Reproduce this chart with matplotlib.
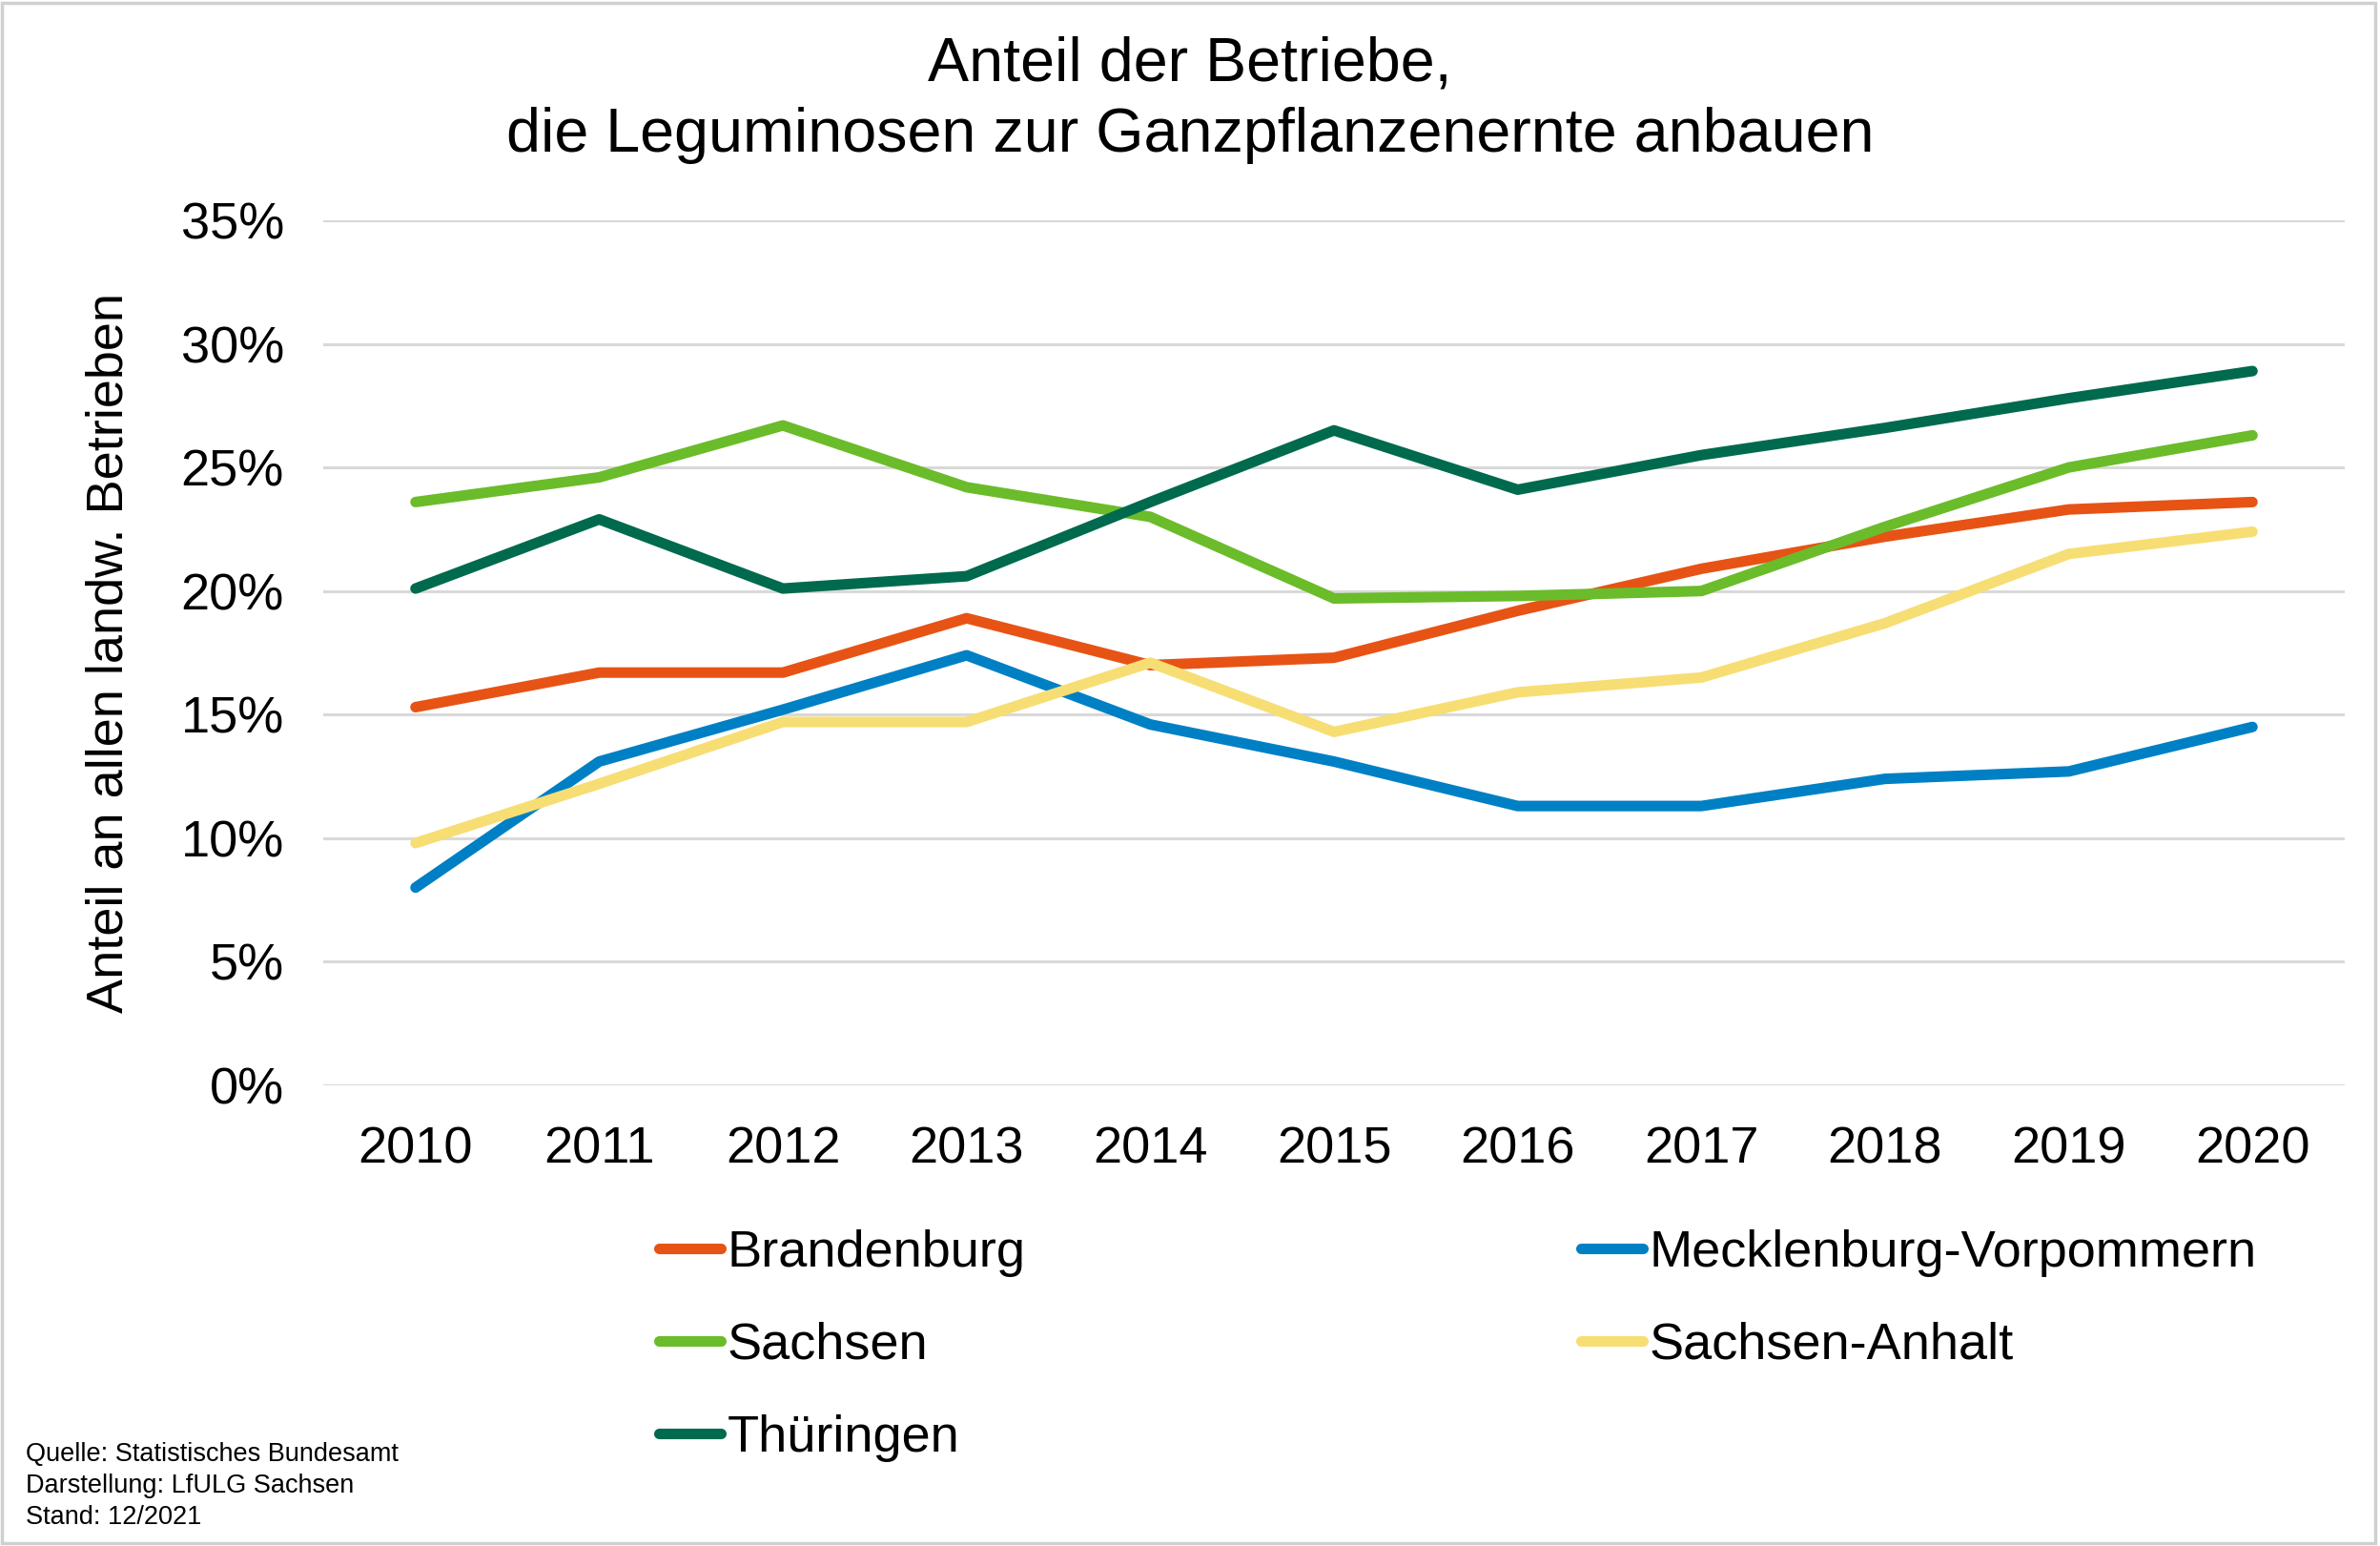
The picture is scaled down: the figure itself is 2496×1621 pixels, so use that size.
import matplotlib
matplotlib.use("Agg")
import matplotlib.pyplot as plt
from matplotlib.patches import Rectangle
from matplotlib.ticker import FuncFormatter

plt.rcParams['font.family'] = ['Liberation Sans', 'DejaVu Sans']

# Daten (Anteil in %)
years = [2010, 2011, 2012, 2013, 2014, 2015, 2016, 2017, 2018, 2019, 2020]
brandenburg = [15.3, 16.7, 16.7, 18.9, 17.0, 17.3, 19.2, 20.9, 22.2, 23.3, 23.6]
mv = [8.0, 13.1, 15.2, 17.4, 14.6, 13.1, 11.3, 11.3, 12.4, 12.7, 14.5]
sachsen = [23.6, 24.6, 26.7, 24.2, 23.0, 19.7, 19.8, 20.0, 22.6, 25.0, 26.3]
sachsen_anhalt = [9.8, 12.2, 14.7, 14.7, 17.1, 14.3, 15.9, 16.5, 18.7, 21.5, 22.4]
thueringen = [20.1, 22.9, 20.1, 20.6, 23.6, 26.5, 24.1, 25.5, 26.6, 27.8, 28.9]

series = [
    ("Brandenburg", brandenburg, "#E75315"),
    ("Mecklenburg-Vorpommern", mv, "#0080C4"),
    ("Sachsen", sachsen, "#6ABC2A"),
    ("Sachsen-Anhalt", sachsen_anhalt, "#F7DE74"),
    ("Thüringen", thueringen, "#006A4E"),
]

fig = plt.figure(figsize=(24.96, 16.21), dpi=100)
ax = fig.add_axes([0.136, 0.298, 0.849, 0.5595])

lines = {}
for name, vals, col in series:
    ln, = ax.plot(years, vals, color=col, lw=8, solid_capstyle='round',
                  solid_joinstyle='round', label=name)
    lines[name] = ln

ax.set_xlim(2009.5, 2020.5)
ax.set_ylim(0, 35)
ax.set_yticks(range(0, 36, 5))
ax.yaxis.set_major_formatter(FuncFormatter(lambda v, p: f"{int(v)}%"))
ax.set_xticks(years)
ax.tick_params(axis='both', length=0, labelsize=39)
ax.tick_params(axis='y', pad=30)
ax.tick_params(axis='x', pad=31)
ax.grid(axis='y', color='#d9d9d9', lw=2.2)
ax.set_axisbelow(True)
for s in ax.spines.values():
    s.set_visible(False)

ax.set_ylabel("Anteil an allen landw. Betrieben", fontsize=39, labelpad=36)

fig.text(0.5, 0.977, "Anteil der Betriebe,\ndie Leguminosen zur Ganzpflanzenernte anbauen",
         ha='center', va='top', fontsize=46.5, linespacing=1.32)

# Legende: Spaltenweise, damit die Zeilen wie im Original liegen
order = ["Brandenburg", "Sachsen", "Thüringen", "Mecklenburg-Vorpommern", "Sachsen-Anhalt"]
fig.legend([lines[n] for n in order], order, ncol=2, loc='upper left',
           bbox_to_anchor=(0.277, 0.205), frameon=False, fontsize=39,
           handlelength=1.2, handletextpad=0.12, columnspacing=10.75,
           labelspacing=0.87, borderaxespad=0, borderpad=0)

fig.text(0.011, 0.067, "Quelle: Statistisches Bundesamt\nDarstellung: LfULG Sachsen\nStand: 12/2021",
         ha='left', va='top', fontsize=19.5, linespacing=1.33)

fig.patches.append(Rectangle((0.001, 0.002), 0.997, 0.996, transform=fig.transFigure,
                             fill=False, edgecolor='#d0d0d0', lw=2.5))

fig.savefig("out.png", dpi=100)
